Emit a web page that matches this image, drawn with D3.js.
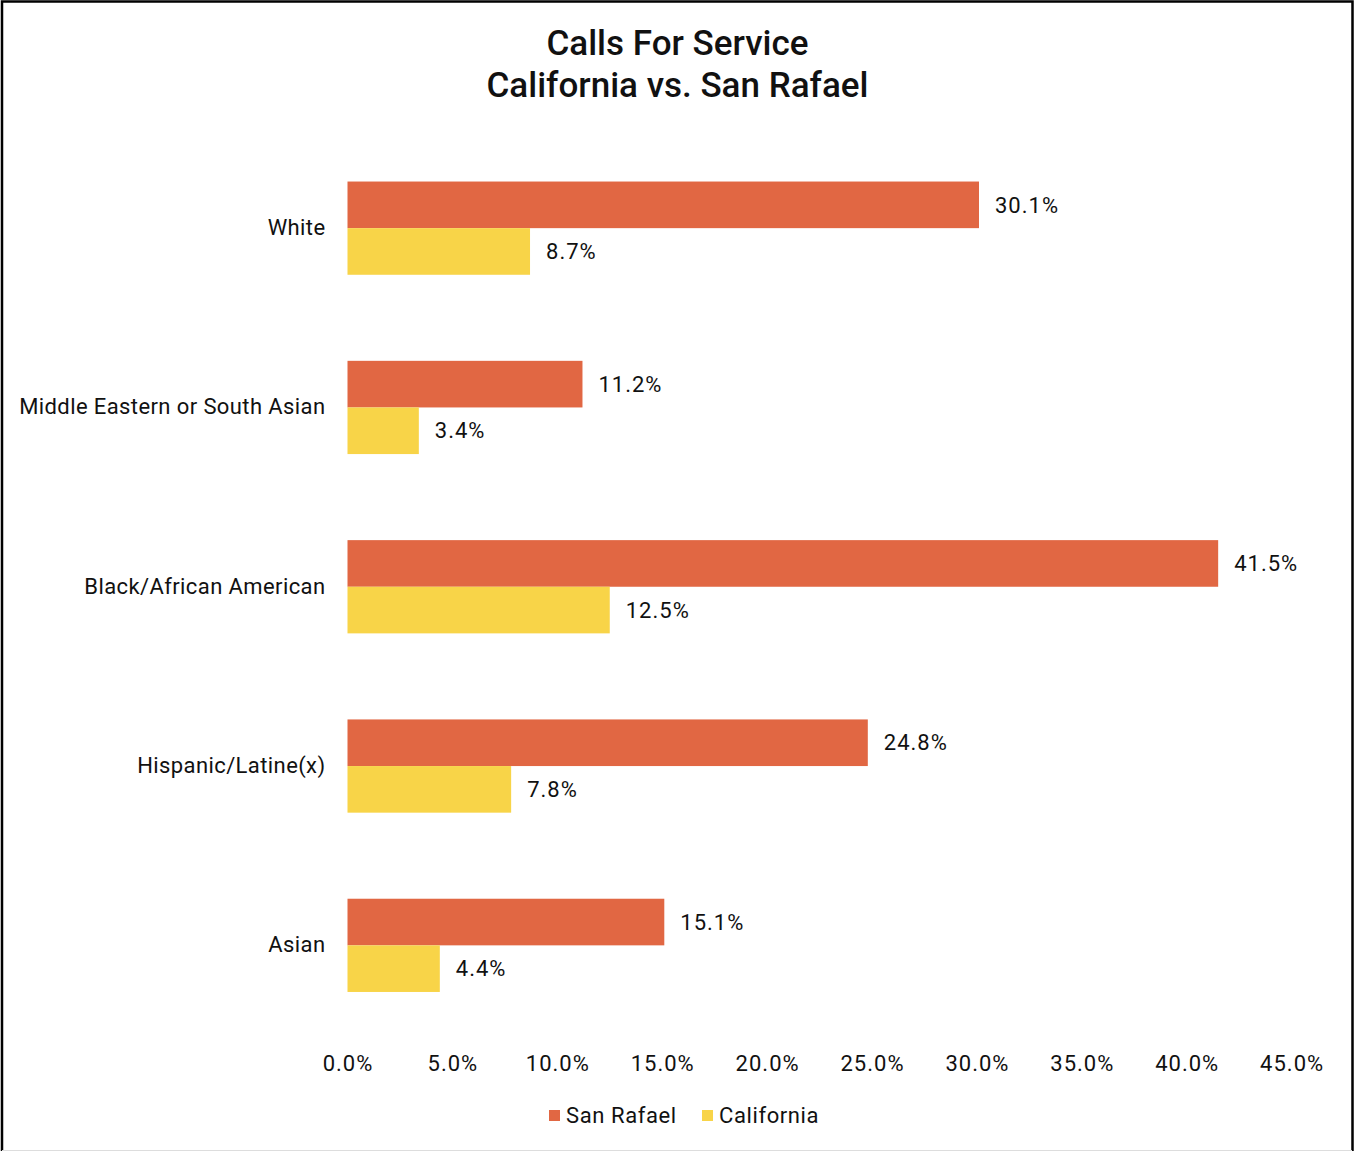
<!DOCTYPE html>
<html>
<head>
<meta charset="utf-8">
<script src="https://cdn.jsdelivr.net/npm/d3@7"></script>
<style>
  html, body { margin: 0; padding: 0; background: #fff; }
  svg { display: block; }
  text { font-family: Roboto, "Liberation Sans", sans-serif; fill: #111; }
</style>
</head>
<body>
<svg id="chart" width="1355" height="1152"></svg>
<script>
// Category labels, top to bottom
const categories = ["White", "Middle Eastern or South Asian", "Black/African American", "Hispanic/Latine(x)", "Asian"];
// Percent of calls for service
const sanRafael = [30.1, 11.2, 41.5, 24.8, 15.1];
const california = [8.7, 3.4, 12.5, 7.8, 4.4];
const seriesNames = ["San Rafael", "California"];
const seriesColors = ["#E16743", "#F8D448"];
const xTicks = [0, 5, 10, 15, 20, 25, 30, 35, 40, 45];

const svg = d3.select("#chart");
const W = 1355, H = 1152;
const FONT = "Roboto, 'Liberation Sans', sans-serif";

// frame
svg.append("rect").attr("x", 0).attr("y", 0).attr("width", W).attr("height", H).attr("fill", "#fff");
svg.append("path")
  .attr("d", `M2,1151 V1.5 H1352.5 V1151`)
  .attr("fill", "none").attr("stroke", "#000").attr("stroke-width", 2.5);
svg.append("line").attr("x1", 2).attr("x2", 1352).attr("y1", 1150.5).attr("y2", 1150.5)
  .attr("stroke", "#ddd").attr("stroke-width", 1);

// title
const title = svg.append("text").attr("text-anchor", "middle").attr("font-size", 35).attr("font-weight", 500);
title.append("tspan").attr("x", 677.5).attr("y", 55).text("Calls For Service");
title.append("tspan").attr("x", 677.5).attr("y", 97).text("California vs. San Rafael");

const x = d3.scaleLinear().domain([0, 45]).range([347.5, 1291.6]);
const y = d3.scaleBand().domain(categories).range([138.5, 1035]).paddingInner(0.48).paddingOuter(0.24);
const ySub = d3.scaleBand().domain(seriesNames).range([0, y.bandwidth()]);

const rows = categories.map((c, i) => ({ cat: c, vals: [sanRafael[i], california[i]] }));

const g = svg.append("g");
const grp = g.selectAll("g.cat").data(rows).join("g")
  .attr("class", "cat")
  .attr("transform", d => `translate(0,${y(d.cat)})`);

grp.selectAll("rect").data(d => d.vals.map((v, k) => ({ v, k })))
  .join("rect")
  .attr("x", x(0))
  .attr("y", d => ySub(seriesNames[d.k]))
  .attr("width", d => x(d.v) - x(0))
  .attr("height", ySub.bandwidth())
  .attr("fill", d => seriesColors[d.k]);

grp.selectAll("text.val").data(d => d.vals.map((v, k) => ({ v, k })))
  .join("text")
  .attr("class", "val")
  .attr("x", d => x(d.v) + 16)
  .attr("y", d => ySub(seriesNames[d.k]) + ySub.bandwidth() / 2)
  .attr("dy", "0.35em")
  .attr("font-size", 22)
  .attr("letter-spacing", 1)
  .text(d => d.v.toFixed(1) + "%");

// category axis
const yAxis = svg.append("g").attr("transform", `translate(${x(0)},0)`)
  .call(d3.axisLeft(y).tickSize(0).tickPadding(22));
yAxis.select(".domain").remove();
yAxis.selectAll("text").attr("font-size", 22).attr("letter-spacing", 0.4).attr("fill", "#111")
  .style("font-family", FONT);

// value axis (labels only)
const xAxis = svg.append("g").attr("transform", `translate(0,1063)`)
  .call(d3.axisBottom(x).tickValues(xTicks).tickSize(0).tickPadding(0).tickFormat(d => d.toFixed(1) + "%"));
xAxis.select(".domain").remove();
xAxis.selectAll("text").attr("font-size", 22).attr("letter-spacing", 1).attr("fill", "#111").attr("dy", "0.35em")
  .style("font-family", FONT);

// legend
const legendX = [549, 702];
const lg = svg.append("g").selectAll("g").data(seriesNames).join("g")
  .attr("transform", (d, i) => `translate(${legendX[i]},1110)`);
lg.append("rect").attr("width", 11).attr("height", 11).attr("fill", (d, i) => seriesColors[i]);
lg.append("text").attr("x", 17).attr("y", 5.5).attr("dy", "0.35em").attr("font-size", 22).attr("letter-spacing", 0.6).text(d => d);
</script>
</body>
</html>
